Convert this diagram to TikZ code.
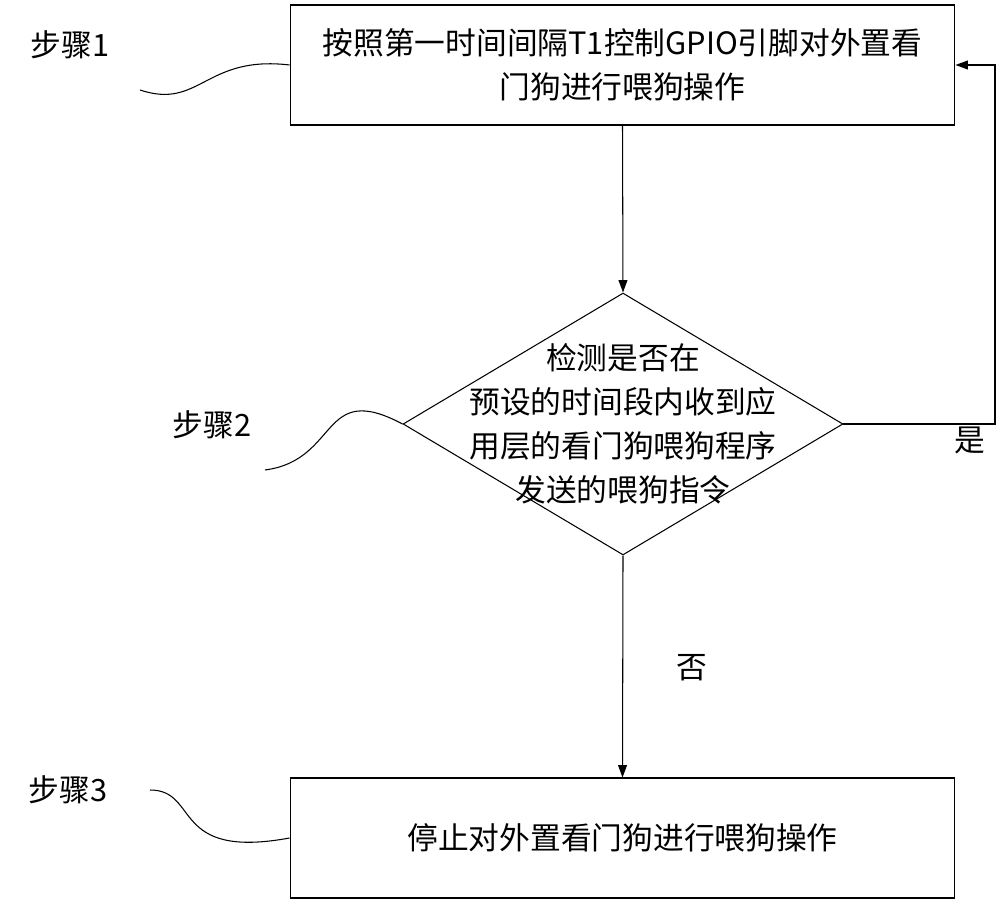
\documentclass[tikz,border=0pt]{standalone}
\usepackage{fontspec}
\setmainfont{Liberation Serif}
\newfontfamily\cjk{Noto Sans CJK SC}
\usetikzlibrary{shapes.geometric,arrows.meta}
\begin{document}
\begin{tikzpicture}[x=0.02cm,y=-0.02cm,
  every node/.style={font=\cjk\fontsize{17.5}{25}\selectfont},
  box/.style={draw,line width=0.6pt,minimum width=13.3cm,minimum height=2.4cm,align=center},
  dia/.style={draw,line width=0.6pt,diamond,minimum width=8.8cm,minimum height=5.24cm,inner sep=0pt},
  arr/.style={-{Triangle[length=7pt,width=5pt]},line width=0.6pt},
  wave/.style={line width=0.6pt}]
\useasboundingbox (0,0) rectangle (1000,908);
\node[box] (b1) at (622.5,65) {按照第一时间间隔T1控制GPIO引脚对外置看\\门狗进行喂狗操作};
\node[dia] (d) at (623,424) {};
\node[align=center] at (623,424) {检测是否在\\预设的时间段内收到应\\用层的看门狗喂狗程序\\发送的喂狗指令};
\node[box] (b3) at (622.5,838) {停止对外置看门狗进行喂狗操作};
\draw[arr] (b1.south) -- (d.north);
\draw[arr] (d.south) -- (b3.north);
\coordinate (c1) at (995,424);
\coordinate (c2) at (995,65);
\draw[arr] (d.east) -- (c1) -- (c2) -- (b1.east);
\node (yes) at (970,440) {是};
\node (no) at (692,668) {否};
\node (s1) at (70,45) {步骤1};
\node (s2) at (212,425) {步骤2};
\node (s3) at (68,790) {步骤3};
\coordinate (w1) at (140,90);
\coordinate (w2) at (265,470);
\coordinate (w3) at (150,790);
\draw[wave] (w1) .. controls (200,110) and (205,55) .. (b1.west);
\draw[wave] (w2) .. controls (340,460) and (320,380) .. (d.west);
\draw[wave] (w3) .. controls (200,790) and (170,860) .. (b3.west);
\end{tikzpicture}
\end{document}
